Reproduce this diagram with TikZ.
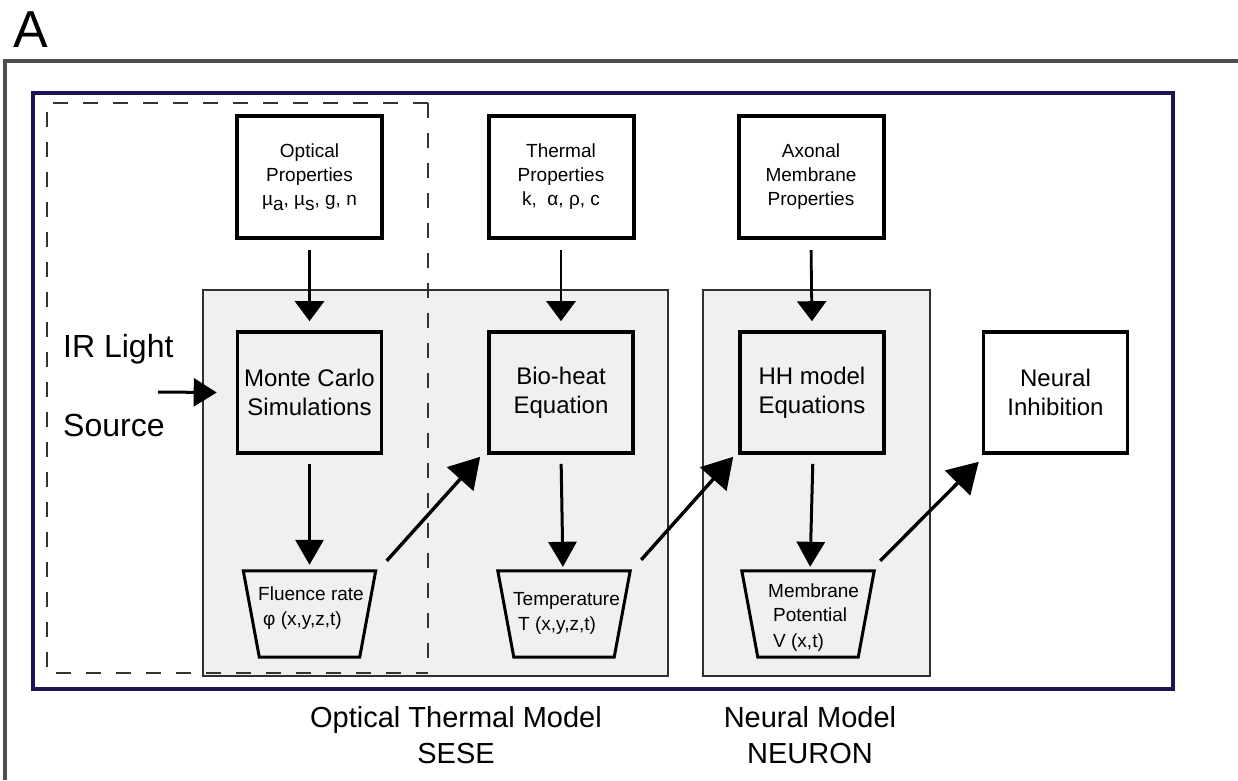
\documentclass[tikz,border=0pt]{standalone}
\usepackage{fontspec}
\setmainfont{Liberation Sans}
\usetikzlibrary{arrows.meta,calc}

\definecolor{panelfill}{HTML}{F0F0F0}
\definecolor{panelline}{HTML}{303030}
\definecolor{navyframe}{HTML}{1B1553}
\definecolor{outerframe}{HTML}{4D4D4D}
\definecolor{dashline}{HTML}{333333}

\tikzset{
  propbox/.style={draw=black, line width=4pt, fill=white, minimum width=145pt, minimum height=122pt,
    inner sep=0pt, align=center, font=\fontsize{19}{24}\selectfont},
  procbox/.style={draw=black, line width=3.6pt, minimum width=144pt, minimum height=121pt,
    inner sep=0pt, align=center, font=\fontsize{24}{29}\selectfont},
  trapframe/.style={minimum width=132pt, minimum height=86pt, inner sep=0pt},
  traptext/.style={anchor=base west, inner sep=0pt, font=\fontsize{19}{24}\selectfont},
  trapline/.style={draw=black, line width=3pt, line join=miter},
  panel/.style={draw=panelline, line width=2pt, fill=panelfill},
  downarrow/.style={line width=2.8pt, -{Triangle[length=20pt,width=29pt]}},
  lowarrow/.style={line width=3pt, -{Triangle[length=25pt,width=28pt]}},
  diagarrow/.style={line width=3.4pt, -{Triangle[length=30pt,width=35pt]}},
  inarrow/.style={line width=3pt, -{Triangle[length=23pt,width=28pt]}},
  biglabel/.style={inner sep=0pt, font=\fontsize{32}{38}\selectfont},
  modellabel/.style={inner sep=0pt, anchor=base, font=\fontsize{29}{36}\selectfont},
}

\begin{document}
\begin{tikzpicture}[x=1pt, y=-1pt]
  \useasboundingbox (0,0) rectangle (1238,780);

  % panel letter and open outer frame
  \node[anchor=base west, inner sep=0pt, font=\fontsize{52}{52}\selectfont] (letter) at (13,47) {A};
  \draw[outerframe, line width=3.3pt] (1238,61) -- (5,61) -- (5,780);

  % navy enclosing frame
  \draw[navyframe, line width=3.3pt] (33,93) rectangle (1173,689);

  % grey model panels
  \draw[panel] (203,290) rectangle (668,676);
  \draw[panel] (703,290) rectangle (930,676);

  % dashed region of the light source
  \draw[dashline, line width=2pt, dash pattern=on 15pt off 15pt] (428,103) -- (47,103) -- (47,673) -- (428,673);
  \draw[dashline, line width=2pt, dash pattern=on 15pt off 15pt] (428,103) -- (428,673);

  % property boxes
  \node[propbox] (opt) at (309.5,177) {Optical\\Properties\\\textmu\raisebox{-0.45ex}{a}, \textmu\raisebox{-0.45ex}{s}, g, n};
  \node[propbox] (thp) at (561,177) {Thermal\\Properties\\k,\ \ α, ρ, c};
  \node[propbox] (axp) at (811,177) {\raisebox{5pt}{\begin{tabular}{@{}c@{}}Axonal\\Membrane\\Properties\end{tabular}}};

  % processing boxes
  \node[procbox] (mc) at (309.5,392.5) {Monte Carlo\\Simulations};
  \node[procbox] (bio) at (561,392.5) {Bio-heat\\Equation};
  \node[procbox] (hh) at (812,392.5) {HH model\\Equations};
  \node[procbox, fill=white] (ni) at (1055.5,392.5) {Neural\\Inhibition};

  % output trapezoids
  \node[trapframe] (fl) at (309.5,614) {};
  \node[trapframe] (tm) at (564,614) {};
  \node[trapframe] (mem) at (808,614) {};
  \foreach \t in {fl,tm,mem} {
    \draw[trapline] (\t.north west) -- (\t.north east) -- ($(\t.south east)+(-16,0)$)
      -- ($(\t.south west)+(16,0)$) -- cycle;
  }
  \node[traptext] (fltxt) at (258,600) {Fluence rate};
  \node[traptext] (flvar) at (263,625) {φ (x,y,z,t)};
  \node[traptext] (tmtxt) at (513,605) {Temperature};
  \node[traptext] (tmvar) at (518,630) {T (x,y,z,t)};
  \node[traptext] (memtxt) at (768,597) {Membrane};
  \node[traptext] (mempot) at (773,621) {Potential};
  \node[traptext] (memvar) at (773,647) {V (x,t)};

  % light source
  \node[biglabel, anchor=base west] (ir) at (63,357) {IR Light};
  \node[biglabel, anchor=base west] (src) at (63,436) {Source};
  \coordinate (irsrc) at (158,392);
  \draw[inarrow] (irsrc) -- ($(mc.west)+(-19,0)$);

  % property inputs
  \draw[downarrow, shorten <=10pt, shorten >=9pt] (opt.south) -- (mc.north);
  \draw[downarrow, shorten <=10pt, shorten >=9pt] (thp.south) -- (bio.north);
  \draw[downarrow, shorten <=10pt, shorten >=9pt] (axp.south) -- (hh.north);

  % model outputs
  \draw[lowarrow, shorten <=9pt, shorten >=6pt] (mc.south) -- (fl.north);
  \draw[lowarrow, shorten <=9pt, shorten >=4pt] (bio.south) -- ($(tm.north)+(-1,0)$);
  \draw[lowarrow, shorten <=9pt, shorten >=4pt] ($(hh.south)+(1,0)$) -- ($(mem.north)+(2,0)$);

  % coupling between stages
  \draw[diagarrow] ($(fl.north east)+(11,-10)$) -- ($(bio.south west)+(-7,2)$);
  \draw[diagarrow] ($(tm.north east)+(11,-11)$) -- ($(hh.south west)+(-5,2)$);
  \draw[diagarrow] ($(mem.north east)+(6,-10)$) -- ($(ni.south west)+(-3,7)$);

  % model captions
  \node[modellabel] (otm) at (456,727) {Optical Thermal Model};
  \node[modellabel] (otmsw) at (456,763) {SESE};
  \node[modellabel] (nm) at (810,727) {Neural Model};
  \node[modellabel] (nmsw) at (810,763) {NEURON};
\end{tikzpicture}
\end{document}
